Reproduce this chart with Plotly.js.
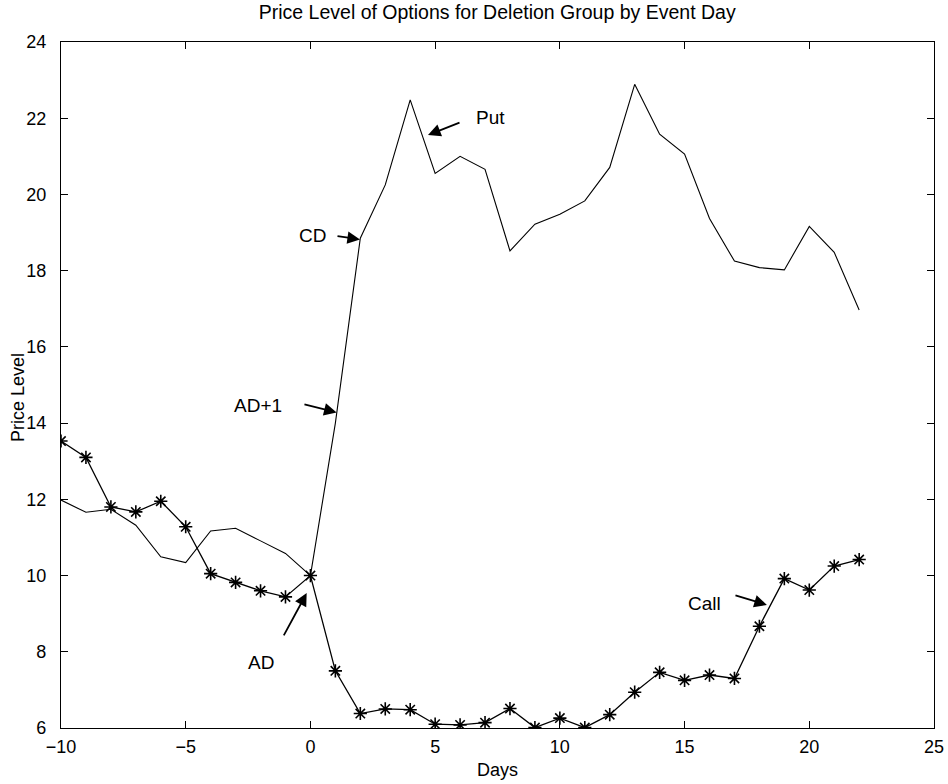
<!DOCTYPE html>
<html>
<head>
<meta charset="utf-8">
<script src="https://cdn.plot.ly/plotly-3.0.1.min.js"></script>
<style>html,body{margin:0;padding:0;background:#fff;}#chart{width:948px;height:784px;}</style>
</head>
<body>
<div id="chart"></div>
<script>
const days = [-10,-9,-8,-7,-6,-5,-4,-3,-2,-1,0,1,2,3,4,5,6,7,8,9,10,11,12,13,14,15,16,17,18,19,20,21,22];
const putPrice = [11.98,11.66,11.74,11.32,10.49,10.34,11.17,11.24,10.91,10.58,10.0,14.0,18.85,20.25,22.48,20.55,21.0,20.66,18.52,19.22,19.48,19.83,20.71,22.89,21.58,21.06,19.37,18.25,18.08,18.02,19.16,18.48,16.97];
const callPrice = [13.53,13.1,11.8,11.67,11.95,11.28,10.05,9.82,9.6,9.44,10.0,7.5,6.38,6.5,6.48,6.1,6.08,6.14,6.51,6.01,6.26,6.01,6.35,6.94,7.46,7.25,7.39,7.30,8.67,9.92,9.62,10.25,10.42];
const xTicks = [-10,-5,0,5,10,15,20,25];
const yTicks = [6,8,10,12,14,16,18,20,22,24];

const fam = 'Liberation Sans, Arial, sans-serif';
const tickFont = {family: fam, size: 18, color: '#000'};
const labFont = {family: fam, size: 19, color: '#000'};

const traces = [
  {x: days, y: putPrice, type: 'scatter', mode: 'lines', name: 'Put',
   line: {color: '#000', width: 1.1}},
  {x: days, y: callPrice, type: 'scatter', mode: 'lines+markers', name: 'Call',
   line: {color: '#000', width: 1.3},
   marker: {symbol: 'asterisk-open', size: 11, color: '#000', line: {color: '#000', width: 1.6}}}
];

function arrow(tipX, tipY, tailX, tailY) {
  return {x: tipX, y: tipY, ax: tailX, ay: tailY, xref: 'x', yref: 'y', axref: 'x', ayref: 'y',
          text: '', showarrow: true, arrowhead: 2, arrowsize: 1.4, arrowwidth: 1.8, arrowcolor: '#000'};
}
function label(t, x, y) {
  return {x: x, y: y, xref: 'x', yref: 'y', text: t, showarrow: false, font: labFont,
          xanchor: 'center', yanchor: 'middle'};
}

const layout = {
  width: 948, height: 784,
  margin: {l: 61, r: 14, t: 42, b: 56},
  paper_bgcolor: '#fff', plot_bgcolor: '#fff',
  showlegend: false,
  font: tickFont,
  title: {text: 'Price Level of Options for Deletion Group by Event Day', font: {family: fam, size: 19.5, color: '#000'},
          x: 0.5245, xanchor: 'center', y: 0.984, yanchor: 'middle'},
  xaxis: {range: [-10, 25], tickvals: xTicks, ticktext: xTicks.map(v => v < 0 ? '\u2212' + Math.abs(v) : String(v)),
          ticks: 'inside', ticklen: 7, tickcolor: '#000', tickwidth: 1, ticklabelstandoff: 2,
          showline: true, linecolor: '#000', linewidth: 1.2, mirror: 'ticks',
          showgrid: false, zeroline: false, tickfont: tickFont,
          title: {text: 'Days', font: tickFont, standoff: 7}},
  yaxis: {range: [6, 24], tickvals: yTicks,
          ticks: 'inside', ticklen: 7, tickcolor: '#000', tickwidth: 1, ticklabelstandoff: 10,
          showline: true, linecolor: '#000', linewidth: 1.2, mirror: 'ticks',
          showgrid: false, zeroline: false, tickfont: tickFont},
  annotations: [
    {x: -0.0493, y: 0.4825, xref: 'paper', yref: 'paper', text: 'Price Level', textangle: -90,
     showarrow: false, font: tickFont, xanchor: 'center', yanchor: 'middle'},
    arrow(4.714, 21.56, 6.037, 21.90), label('Put', 7.2, 22.01),
    arrow(1.987, 18.82, 1.025, 18.91), label('CD', 0.1, 18.91),
    arrow(1.05, 14.28, -0.30, 14.50), label('AD+1', -2.1, 14.47),
    arrow(-0.15, 9.54, -1.10, 8.39), label('AD', -1.98, 7.73),
    arrow(18.30, 9.23, 16.98, 9.49), label('Call', 15.78, 9.28)
  ]
};

Plotly.newPlot('chart', traces, layout, {displayModeBar: false, staticPlot: true});
</script>
</body>
</html>
